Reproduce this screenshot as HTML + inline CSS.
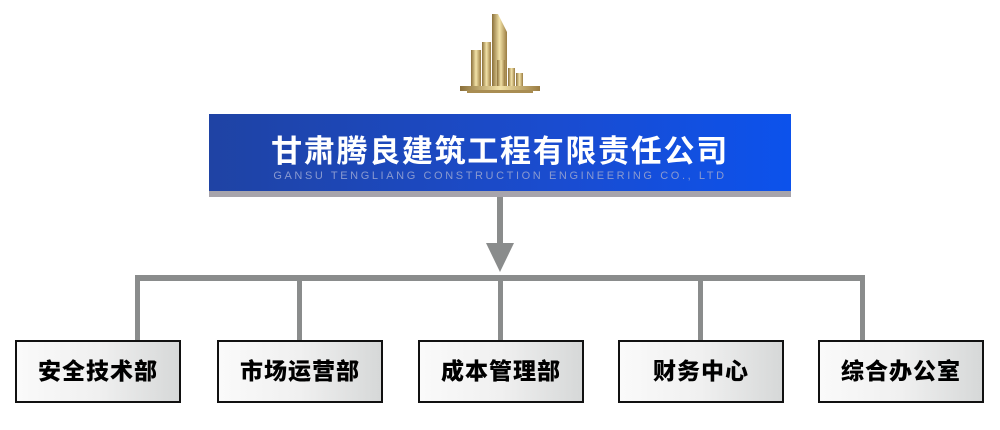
<!DOCTYPE html>
<html><head><meta charset="utf-8"><style>
body{margin:0;width:1000px;height:430px;background:#fff;position:relative;overflow:hidden;font-family:"Liberation Sans","Noto Sans CJK SC",sans-serif}
.a{position:absolute}
.ln{position:absolute;background:#8a8c8c}
.box{position:absolute;top:340px;width:162px;height:59px;border:2px solid #111;background:linear-gradient(90deg,#fafafa,#f0f0f0 50%,#d6d8d8);font-weight:900;font-size:23px;text-align:center;line-height:59px;color:#000;letter-spacing:1px}
</style></head><body>
<svg class="a" style="left:455px;top:10px" width="90" height="85" viewBox="0 0 90 85">
<defs><linearGradient id="g" x1="0" x2="1"><stop offset="0" stop-color="#8a6f3a"/><stop offset=".5" stop-color="#f3e3a8"/><stop offset="1" stop-color="#9a7c42"/></linearGradient></defs>
<rect x="16" y="40" width="10" height="40" fill="url(#g)"/>
<rect x="27" y="32" width="9" height="48" fill="url(#g)"/>
<path d="M37 4 L43 4 L52 22 L52 80 L37 80 Z" fill="url(#g)"/>
<rect x="42" y="50" width="8" height="30" fill="url(#g)"/>
<rect x="53" y="58" width="7" height="22" fill="url(#g)"/>
<rect x="61" y="63" width="7" height="17" fill="url(#g)"/>
<rect x="5" y="76" width="80" height="5" fill="url(#g)"/>
<rect x="12" y="80" width="66" height="3" fill="#a98d52"/>
</svg>
<div class="a" style="left:209px;top:114px;width:582px;height:77px;background:linear-gradient(90deg,#1f43a4,#1a4cd0 60%,#0c52ec)"></div>
<div class="a" style="left:209px;top:191px;width:582px;height:6px;background:#a7a4ab"></div>
<div class="a" style="left:209px;top:126px;width:582px;text-align:center;color:#fff;font-size:31px;font-weight:bold;letter-spacing:1.7px">甘肃腾良建筑工程有限责任公司</div>
<div class="a" style="left:209px;top:170px;width:582px;text-align:center;color:#8a9ad0;font-size:11px;letter-spacing:2.6px">GANSU TENGLIANG CONSTRUCTION ENGINEERING CO., LTD</div>
<div class="ln" style="left:497px;top:197px;width:6px;height:50px"></div>
<svg class="a" style="left:486px;top:243px" width="28" height="30"><polygon points="0,0 28,0 14,29" fill="#8a8c8c"/></svg>
<div class="ln" style="left:135px;top:275px;width:730px;height:6px"></div>
<div class="ln" style="left:135px;top:275px;width:5px;height:66px"></div>
<div class="ln" style="left:297px;top:275px;width:5px;height:66px"></div>
<div class="ln" style="left:498px;top:275px;width:5px;height:66px"></div>
<div class="ln" style="left:698px;top:275px;width:5px;height:66px"></div>
<div class="ln" style="left:860px;top:275px;width:5px;height:66px"></div>
<div class="box" style="left:15px">安全技术部</div>
<div class="box" style="left:217px">市场运营部</div>
<div class="box" style="left:418px">成本管理部</div>
<div class="box" style="left:618px">财务中心</div>
<div class="box" style="left:818px">综合办公室</div>
</body></html>
